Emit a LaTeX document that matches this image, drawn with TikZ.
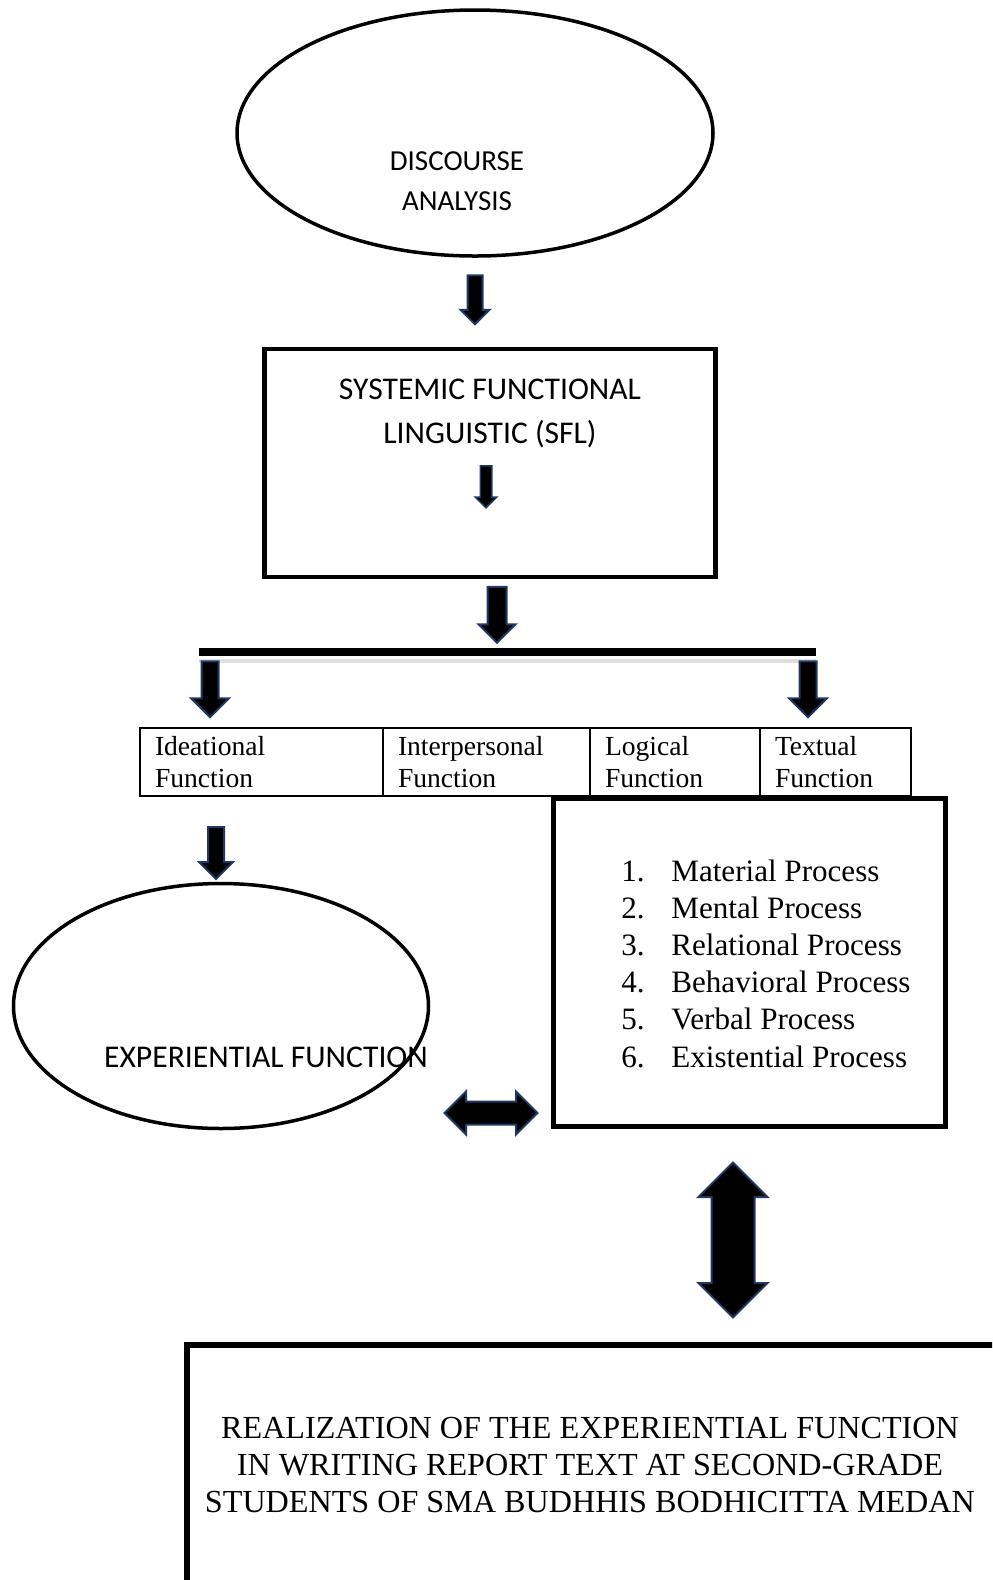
\documentclass[tikz,border=0pt]{standalone}
\usepackage{fontspec}
\setmainfont{Liberation Serif}
\newfontfamily\calibri{Carlito}
\usetikzlibrary{positioning,shapes.geometric,shapes.arrows}

\definecolor{arrowrim}{HTML}{1F3864}
\newcommand{\px}{0.02cm}

\tikzset{
  oval/.style={ellipse, draw, line width=3.5*\px, inner sep=0pt},
  frame/.style={rectangle, draw, line width=4.5*\px, inner sep=0pt},
  cell/.style={rectangle, draw, line width=1.6*\px, inner xsep=15*\px, inner ysep=0pt,
    outer sep=0pt, minimum height=68*\px, align=left, font=\fontsize{15.7}{18.7}\selectfont},
  % #1 length, #2 head width, #3 shaft width
  downarrow/.style n args={3}{single arrow, draw=arrowrim, fill=black, line width=2*\px,
    inner xsep=0pt, inner ysep=#3/2*\px, minimum height=#1*\px, minimum width=#2*\px,
    single arrow head extend={(#2-#3)/2*\px}, rotate=-90},
  bothways/.style n args={3}{double arrow, draw=arrowrim, fill=black, line width=2*\px,
    inner xsep=0pt, inner ysep=#3/2*\px, minimum height=#1*\px, minimum width=#2*\px,
    double arrow head extend={(#2-#3)/2*\px}},
  sanslabel/.style={font=\calibri\fontsize{18}{25}\selectfont, align=center},
  proc/.style={font=\fontsize{17.7}{21}\selectfont},
}

\begin{document}
\begin{tikzpicture}[x=0.02cm, y=-0.02cm]

\useasboundingbox (0,0) rectangle (992,1580);
\clip (0,0) rectangle (992,1580);

% discourse analysis
\node[oval, minimum width=476*\px, minimum height=246*\px] (discourse) at (475,133) {};
\node[sanslabel, font=\calibri\fontsize{16.5}{22.7}\selectfont] (discoursetext) at (457,181) {DISCOURSE\\ANALYSIS};

\node[downarrow={49}{27}{13}] (arrowA) at (475,296) {};

% SFL box
\node[frame, minimum width=451*\px, minimum height=228*\px] (sfl) at (490,463) {};
\node[sanslabel] (sfltext) at (490,413) {SYSTEMIC FUNCTIONAL\\LINGUISTIC (SFL)};
\node[downarrow={42}{20}{10}, line width=1.5*\px] (arrowB) at (486,484) {};

\node[downarrow={56}{35}{17}] (arrowC) at (497,610) {};

% branching bar
\coordinate (barL) at (199,652);
\coordinate (barR) at (816,652);
\draw[gray!25, line width=4*\px] ([yshift=-9*\px]barL) -- ([yshift=-9*\px]barR);
\draw[line width=8*\px] (barL) -- (barR);

\node[downarrow={56}{36}{15}] (arrowL) at (210,685) {};
\node[downarrow={56}{36}{15}] (arrowR) at (808,685) {};

% functions table
\node[cell, text width=213*\px, anchor=north west] (ideational) at (140,728) {Ideational\\Function};
\node[cell, text width=177*\px, right=0pt of ideational] (interpersonal) {Interpersonal\\Function};
\node[cell, text width=140*\px, right=0pt of interpersonal] (logical) {Logical\\Function};
\node[cell, text width=121*\px, right=0pt of logical] (textual) {Textual\\Function};

\node[downarrow={52}{32}{14}] (arrowD) at (216,849) {};

% experiential function
\node[oval, minimum width=415*\px, minimum height=245*\px] (experiential) at (221,1006) {};
\node[sanslabel] (experientialtext) at (266,1057) {EXPERIENTIAL FUNCTION};

% processes
\node[frame, line width=5*\px, minimum width=392*\px, minimum height=328*\px] (processes) at (749,962) {};
\foreach \t [count=\i] in {Material Process, Mental Process, Relational Process,
    Behavioral Process, Verbal Process, Existential Process}
{
  \node[proc, anchor=base east, inner sep=0pt] (num\i) at (645, {881+37.2*(\i-1)}) {\i.};
  \node[proc, anchor=base west, inner sep=0pt] (proc\i) at (671, {881+37.2*(\i-1)}) {\t};
}

\node[bothways={93}{41}{21}] (linkH) at (491,1113) {};
\node[bothways={155}{67}{41}, rotate=90] (linkV) at (733,1240) {};

% realization
\node[frame, line width=6*\px, minimum width=900*\px, minimum height=400*\px, anchor=north west] (realization) at (184,1342) {};
\node[align=center, font=\fontsize{18.3}{21.3}\selectfont] (realizationtext) at (590,1465)
  {REALIZATION OF THE EXPERIENTIAL FUNCTION\\IN WRITING REPORT TEXT AT SECOND-GRADE\\STUDENTS OF SMA BUDHHIS BODHICITTA MEDAN};

\end{tikzpicture}
\end{document}
